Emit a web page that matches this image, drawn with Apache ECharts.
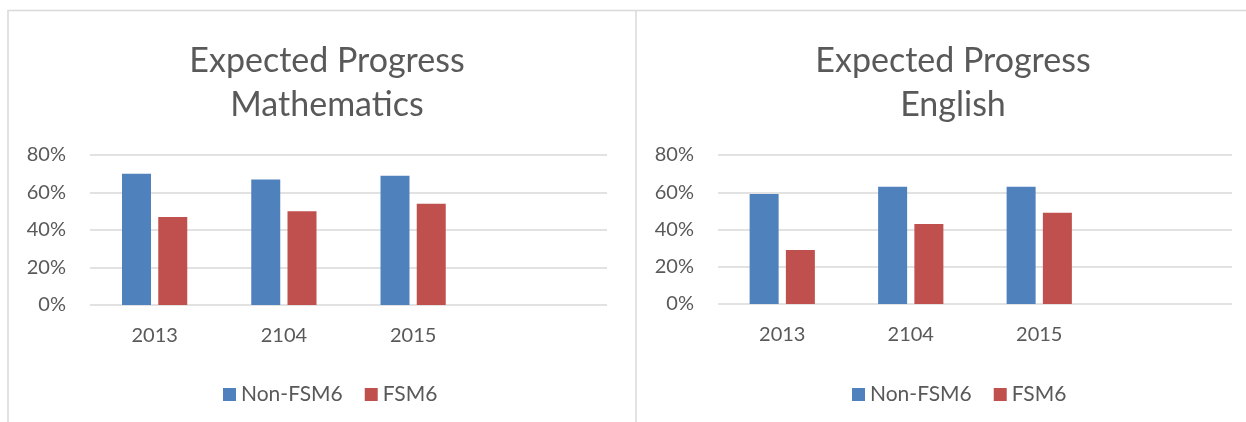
<!DOCTYPE html>
<html>
<head>
<meta charset="utf-8">
<script src="https://cdn.jsdelivr.net/npm/echarts@6/dist/echarts.min.js"></script>
<style>
  html, body { margin: 0; padding: 0; background: #fff; }
  #chart { width: 1246px; height: 422px; }
</style>
</head>
<body>
<div id="chart"></div>
<script>
const years = ['2013', '2104', '2015', '']
const seriesNames = ['Non-FSM6', 'FSM6']
const mathNonFsm = [0.70, 0.67, 0.69]
const mathFsm = [0.47, 0.50, 0.54]
const engNonFsm = [0.59, 0.63, 0.63]
const engFsm = [0.29, 0.43, 0.49]
const yTicks = { min: 0, max: 0.8, interval: 0.2 }

const font = 'Lato, "Open Sans", sans-serif'
const textColor = '#595959'
const gridColor = '#d9d9d9'
const blue = '#4f81bd'
const red = '#c0504d'

const chart = echarts.init(document.getElementById('chart'))

function xAxis(gridIndex) {
  return {
    type: 'category', gridIndex, data: years,
    axisLine: { show: false }, axisTick: { show: false },
    axisLabel: { color: textColor, fontSize: 20, fontFamily: font, margin: 21 }
  }
}
function yAxis(gridIndex) {
  return {
    type: 'value', gridIndex, ...yTicks,
    axisLine: { show: false }, axisTick: { show: false },
    axisLabel: {
      color: textColor, fontSize: 20, fontFamily: font, margin: 24,
      formatter: v => Math.round(v * 100) + '%'
    },
    splitLine: { lineStyle: { color: gridColor, width: 1.5 } }
  }
}
function bar(name, data, idx, color) {
  return {
    type: 'bar', name, data, xAxisIndex: idx, yAxisIndex: idx,
    barWidth: 29, barGap: '25%',
    itemStyle: { color }
  }
}
function legend(left) {
  return {
    left, top: 379, itemWidth: 13, itemHeight: 13, itemGap: 22,
    icon: 'rect', data: seriesNames,
    textStyle: { color: textColor, fontSize: 21, fontFamily: font }
  }
}
const titleStyle = { color: textColor, fontSize: 34, fontWeight: 'normal', fontFamily: font, lineHeight: 44 }

chart.setOption({
  animation: false,
  color: [blue, red],
  title: [
    { text: 'Expected Progress\nMathematics', left: 322, top: 34, textAlign: 'center', textStyle: titleStyle },
    { text: 'Expected Progress\nEnglish', left: 948, top: 34, textAlign: 'center', textStyle: titleStyle }
  ],
  legend: [legend(218), legend(847)],
  grid: [
    { left: 90, top: 155, width: 517, height: 150 },
    { left: 718, top: 155, width: 514, height: 149 }
  ],
  xAxis: [xAxis(0), xAxis(1)],
  yAxis: [yAxis(0), yAxis(1)],
  series: [
    bar('Non-FSM6', mathNonFsm, 0, blue),
    bar('FSM6', mathFsm, 0, red),
    bar('Non-FSM6', engNonFsm, 1, blue),
    bar('FSM6', engFsm, 1, red)
  ],
  graphic: [
    { type: 'polyline', shape: { points: [[8, 422], [8, 10.5], [1246, 10.5]] },
      style: { stroke: gridColor, fill: null, lineWidth: 1.5 } },
    { type: 'line', shape: { x1: 636, y1: 10, x2: 636, y2: 422 },
      style: { stroke: gridColor, lineWidth: 1.5 } }
  ]
})
</script>
</body>
</html>
